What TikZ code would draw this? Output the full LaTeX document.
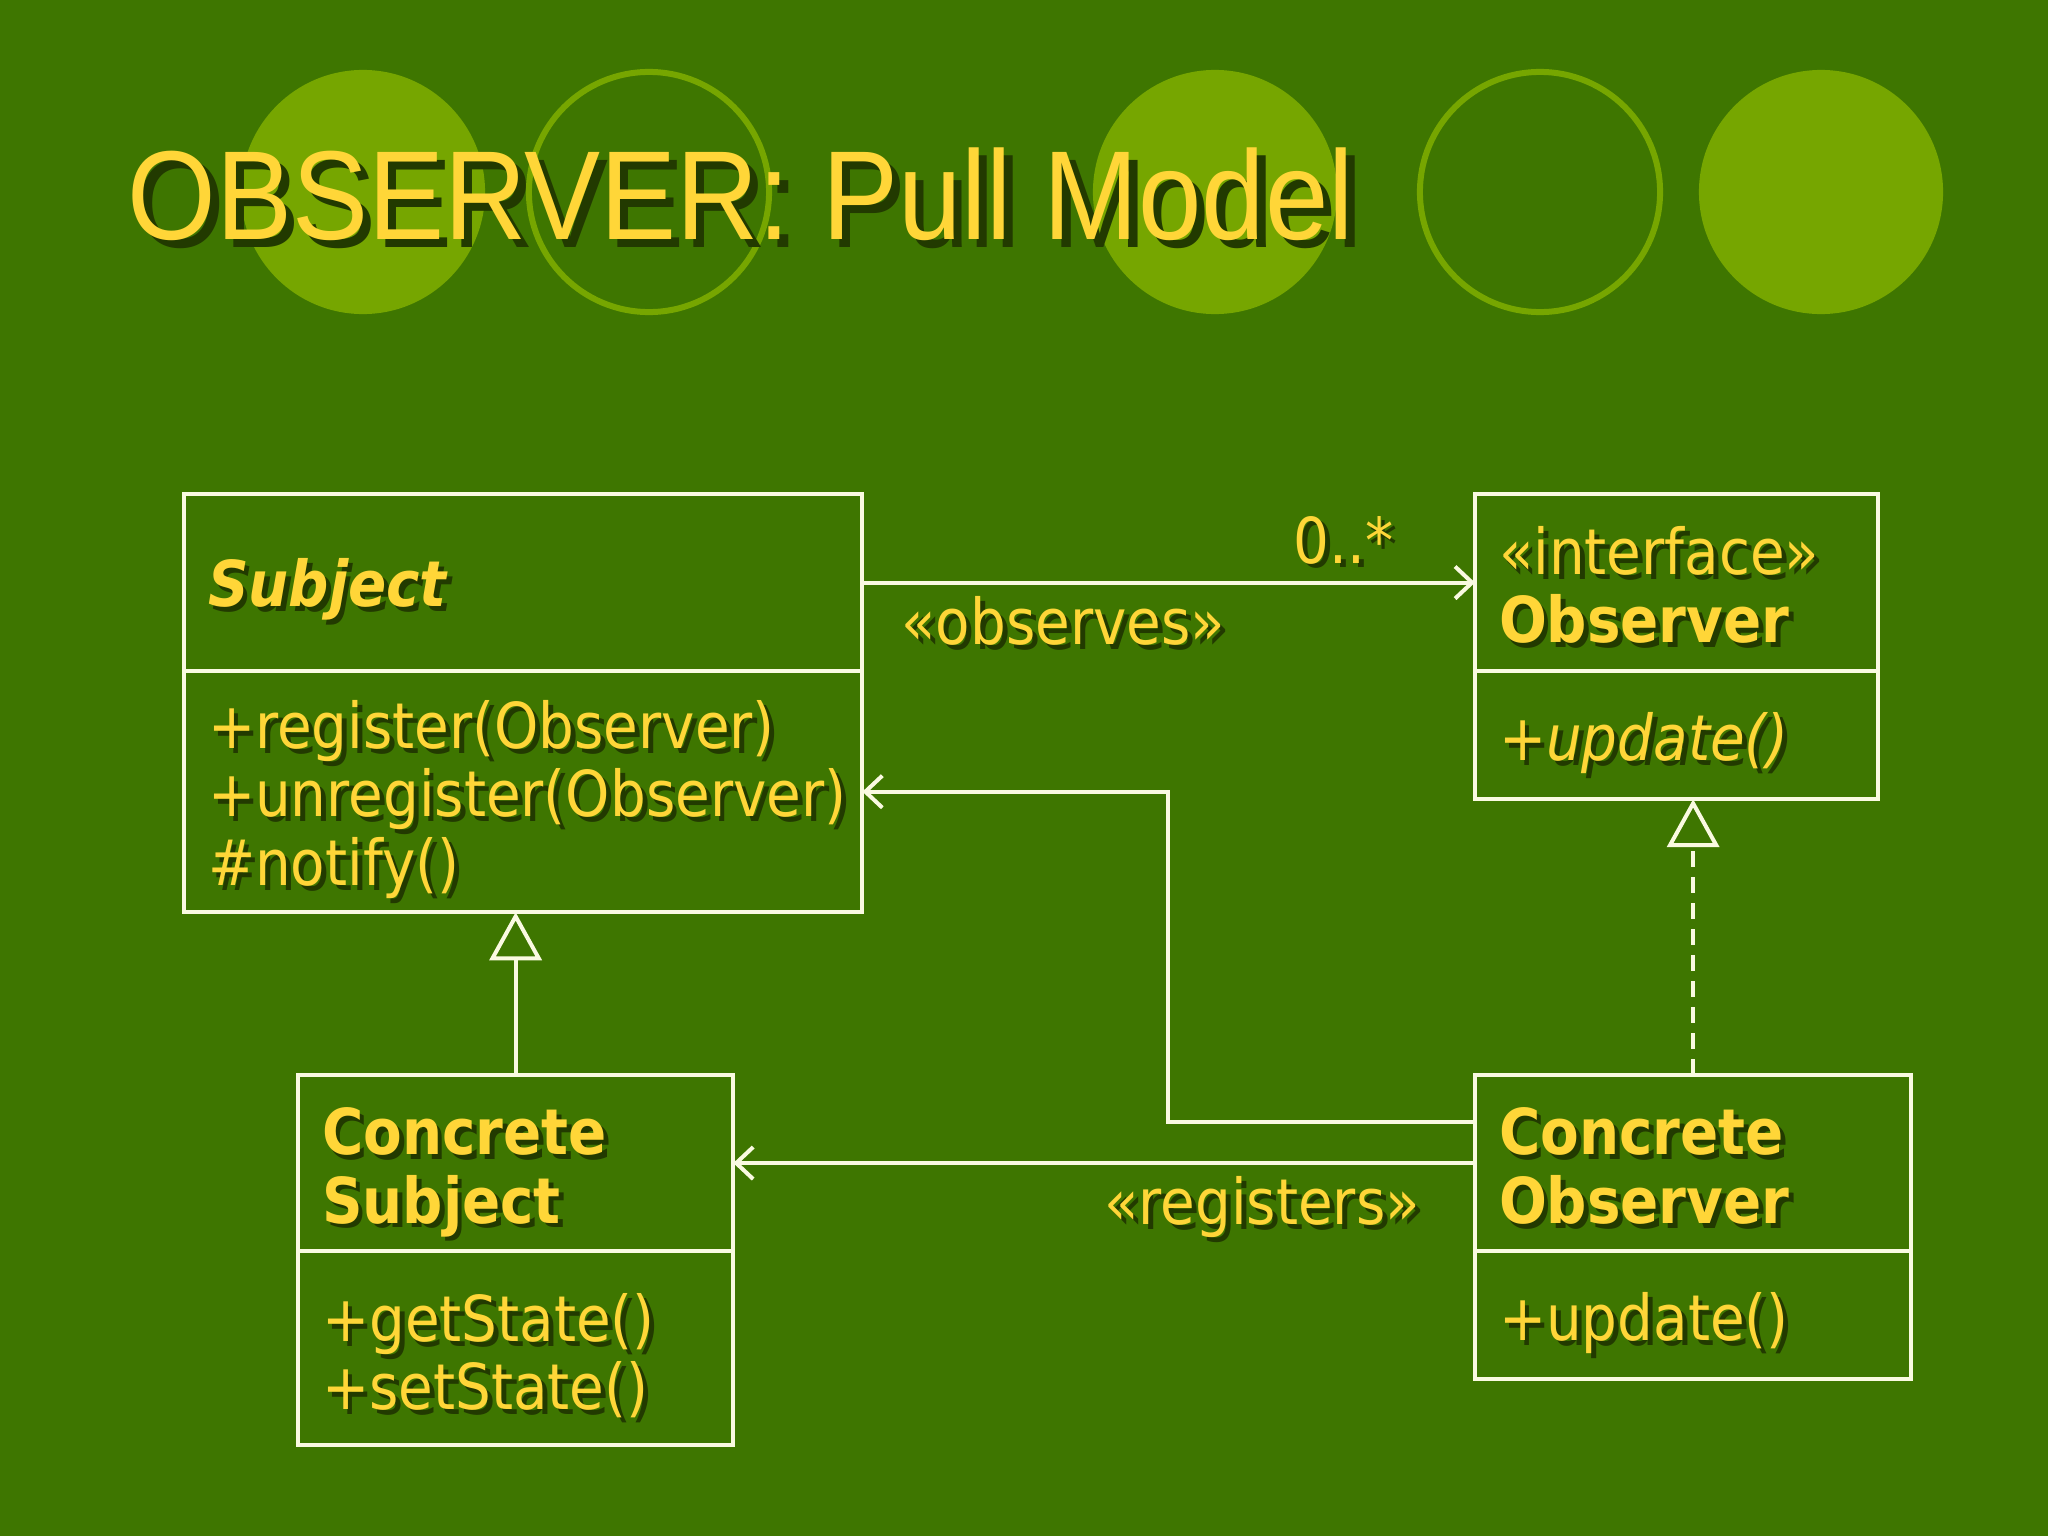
\documentclass[tikz,border=0pt]{standalone}
\usepackage{fontspec}
\setmainfont[FakeStretch=0.89]{DejaVu Sans}
\newfontfamily\titlefont[FakeStretch=0.9]{Liberation Sans}
\usepackage{tikz}
\usetikzlibrary{positioning,arrows.meta}
\definecolor{slidebg}{RGB}{62,118,0}
\definecolor{ringc}{RGB}{118,166,0}
\definecolor{gold}{RGB}{255,214,56}
\definecolor{chalk}{RGB}{250,250,225}
\definecolor{shadowc}{RGB}{34,58,0}
\newcommand{\shd}[1]{\leavevmode\rlap{\kern1.4pt\raisebox{-1.4pt}{\color{shadowc}#1}}#1}
\newcommand{\bigshd}[1]{\leavevmode\rlap{\kern2.4pt\raisebox{-2.4pt}{\color{shadowc}#1}}#1}
\newcommand{\tops}[1][19.4pt]{\rule{0pt}{#1}}
\tikzset{
  classhead/.style={draw=chalk,line width=0.04cm,anchor=north west,outer sep=0pt,
    inner xsep=0.24cm,inner ysep=0pt,align=left,text=gold,
    font=\fontsize{18pt}{19.5pt}\selectfont},
  classbody/.style={classhead,below=0pt of #1},
  lbl/.style={text=gold,font=\fontsize{18pt}{19.5pt}\selectfont},
  assoc/.style={draw=chalk,line width=0.04cm,-{Straight Barb[length=0.17cm,width=0.32cm]}},
  gen/.style={draw=chalk,line width=0.04cm,-{Triangle[open,length=0.48cm,width=0.52cm]}},
  real/.style={gen,dash pattern=on 0.16cm off 0.1cm},
  ring/.style={draw=ringc,line width=0.06cm}
}

\begin{document}
\begin{tikzpicture}[x=0.01cm,y=-0.01cm]
    % slide background
    \fill[slidebg] (0,0) rectangle (2048,1536);
    \useasboundingbox (0,0) rectangle (2048,1536);
    \fill[ringc] (363,192) circle[radius=1.22cm];
    \draw[ring] (649,192) circle[radius=1.2cm];
    \fill[ringc] (1215,192) circle[radius=1.22cm];
    \draw[ring] (1540,192) circle[radius=1.2cm];
    \fill[ringc] (1821,192) circle[radius=1.22cm];

    \node at (127,239)[anchor=base west,inner sep=0pt,text=gold,font=\titlefont\fontsize{36pt}{40pt}\selectfont] (title) {
      \bigshd{OBSERVER: Pull Model}
    };

    % the four classes
    \node at (184,494)[classhead,minimum width=6.78cm,text width=6.30cm,minimum height=1.77cm] (subj) {
      \tops[18.8pt]\shd{\bfseries\itshape Subject}
    };
    \node[classbody=subj,minimum width=6.78cm,text width=6.30cm,minimum height=2.41cm] (subjops) {
      \tops\shd{+register(Observer)}\\
      \shd{+unregister(Observer)}\\
      \shd{\#notify()}
    };

    \node at (1475,494)[classhead,minimum width=4.03cm,text width=3.55cm,minimum height=1.77cm] (obs) {
      \tops[16.5pt]\shd{«interface»}\\
      \shd{\bfseries Observer}
    };
    \node[classbody=obs,minimum width=4.03cm,text width=3.55cm,minimum height=1.28cm] (obsops) {
      \tops\shd{\itshape +update()}
    };

    \node at (298,1075)[classhead,minimum width=4.35cm,text width=3.87cm,minimum height=1.76cm] (cs) {
      \tops[19.9pt]\shd{\bfseries Concrete}\\
      \shd{\bfseries Subject}
    };
    \node[classbody=cs,minimum width=4.35cm,text width=3.87cm,minimum height=1.94cm] (csops) {
      \tops\shd{+getState()}\\
      \shd{+setState()}
    };

    \node at (1475,1075)[classhead,minimum width=4.36cm,text width=3.88cm,minimum height=1.76cm] (co) {
      \tops[16.5pt]\shd{\bfseries Concrete}\\
      \shd{\bfseries Observer}
    };
    \node[classbody=co,minimum width=4.36cm,text width=3.88cm,minimum height=1.28cm] (coops) {
      \tops\shd{+update()}
    };

    % relations
    \draw[assoc] (subj.east) -- (obs.west)
      node[lbl,above,pos=0.785] (mult) {\shd{0..*}}
      node[lbl,below,pos=0.328] (obslbl) {\shd{«observes»}};
    \draw[assoc] ([yshift=0.41cm]co.west) -- ++(-3.07cm,0) |- (subjops.east);
    \draw[assoc] (co.west) -- (cs.east)
      node[lbl,below,pos=0.287] (reglbl) {\shd{«registers»}};
    \draw[gen] (cs.north) -- (cs.north |- subjops.south);
    \draw[real] (co.north) -- (co.north |- obsops.south);
\end{tikzpicture}
\end{document}
